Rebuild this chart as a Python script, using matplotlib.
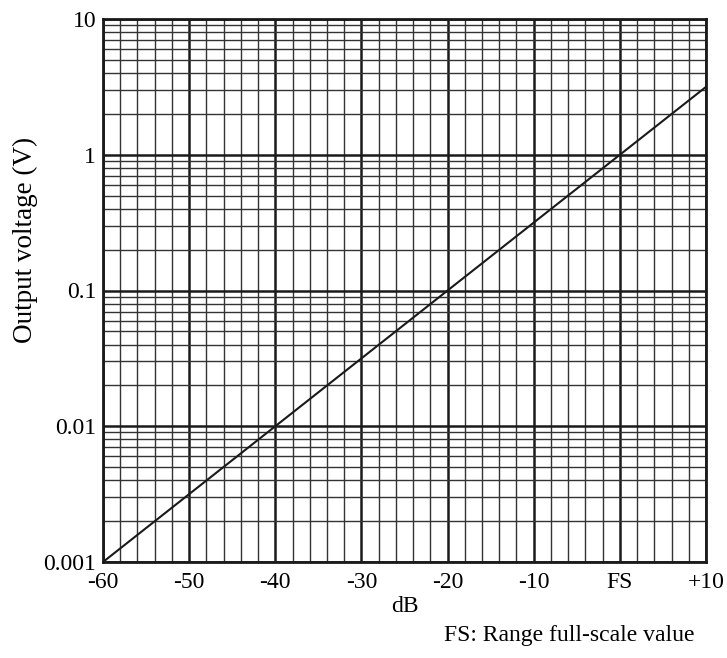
import matplotlib
matplotlib.use("Agg")
import matplotlib.pyplot as plt
import numpy as np
from matplotlib.ticker import FixedLocator, LogLocator, NullFormatter

db = [-60, 10]
volts = [0.001, 3.162]
xticks = [-60, -50, -40, -30, -20, -10, 0, 10]
xticklabels = ["-60", "-50", "-40", "-30", "-20", "-10", "FS", "+10"]
yticks = [0.001, 0.01, 0.1, 1, 10]
yticklabels = ["0.001", "0.01", "0.1", "1", "10"]

plt.rcParams['font.family'] = ['Liberation Serif', 'DejaVu Serif']

fig = plt.figure(figsize=(7.27, 6.58), dpi=100)
ax = fig.add_axes([103/727, 1-562/658, (706-103)/727, (562-19)/658])
ax.set_yscale('log')
ax.set_xlim(-60, 10)
ax.set_ylim(0.001, 10)

ax.set_xticks(xticks)
ax.set_xticklabels(xticklabels)
ax.set_yticks(yticks)
ax.set_yticklabels(yticklabels)
ax.xaxis.set_minor_locator(FixedLocator(np.arange(-60, 11, 2)))
ax.yaxis.set_minor_locator(LogLocator(base=10, subs=np.arange(2, 10)))
ax.yaxis.set_minor_formatter(NullFormatter())

ax.grid(which='major', color='#1a1a1a', linewidth=1.8)
ax.grid(which='minor', color='#333333', linewidth=1.0)
ax.tick_params(which='both', length=0, labelsize=17)
ax.tick_params(axis='x', pad=7)
ax.tick_params(axis='y', pad=5)
for s in ax.spines.values():
    s.set_linewidth(2)
    s.set_color('#1a1a1a')

ax.plot(db, volts, color='#1a1a1a', linewidth=1.5)

ax.set_xlabel('dB', fontsize=17, labelpad=2)
fig.text(25/727, 1-240/658, 'Output voltage (V)', fontsize=19.5, rotation=90,
         ha='center', va='center')
fig.text(694/727, 1-635/658, 'FS: Range full-scale value', fontsize=17, ha='right', va='center')

fig.savefig('out.png', dpi=100)
